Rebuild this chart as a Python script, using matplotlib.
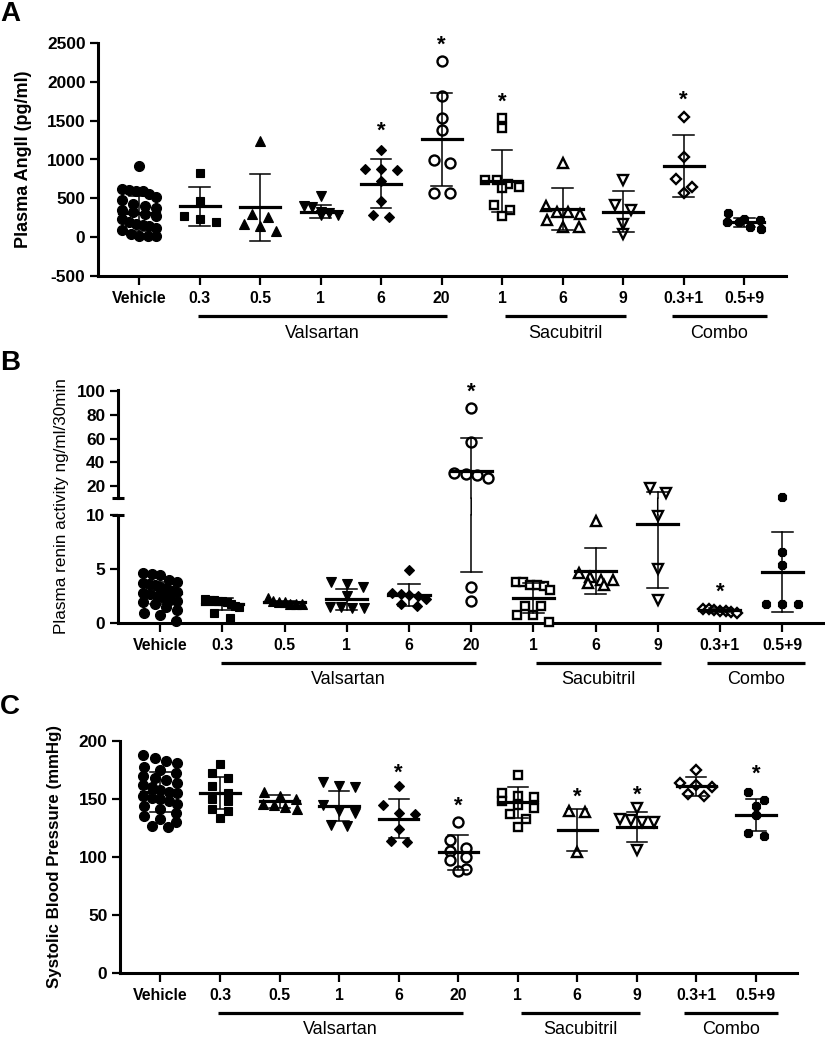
import numpy as np
import matplotlib
matplotlib.use("Agg")
import matplotlib.pyplot as plt
from matplotlib import transforms
from matplotlib.patches import ConnectionPatch

plt.rcParams['font.family'] = ['Liberation Sans', 'DejaVu Sans']

# ---------------- data ----------------
categories = ['Vehicle', '0.3', '0.5', '1', '6', '20', '1', '6', '9', '0.3+1', '0.5+9']
group_names = ['Valsartan', 'Sacubitril', 'Combo']
group_spans = [(0.97, 5.08), (6.05, 8.05), (8.8, 10.37)]

marker_shapes = ['o', 's', '^', 'v', 'D', 'o', 's', '^', 'v', 'D', '8']
marker_filled = [True, True, True, True, True, False, False, False, False, False, True]

# Panel A: plasma AngII (pg/ml)
angii_vals = [
    [910, 620, 610, 600, 590, 560, 520, 480, 430, 400, 380, 350, 320, 300, 270,
     230, 200, 170, 160, 150, 120, 90, 40, 20, 20, 10],
    [820, 460, 270, 230, 190],
    [1240, 300, 260, 170, 140, 85],
    [530, 400, 390, 330, 310, 290, 280],
    [1120, 880, 880, 870, 720, 470, 280, 260],
    [2270, 1820, 1540, 1380, 990, 960, 570, 570],
    [1540, 1410, 740, 730, 680, 640, 630, 420, 350, 270],
    [950, 400, 330, 320, 300, 220, 130, 130],
    [740, 420, 350, 170, 40],
    [1550, 1030, 750, 640, 570],
    [310, 240, 220, 200, 200, 130, 110],
]
angii_mean = [305, 395, 383, 330, 688, 1262, 720, 365, 330, 912, 190]
angii_sd = [225, 255, 435, 85, 315, 600, 400, 270, 260, 400, 60]
angii_star = [None, None, None, None, 1455, 2560, 1830, None, None, 1850, None]

# Panel B: plasma renin activity (ng/ml/30min)
renin_vals = [
    [4.6, 4.5, 4.4, 4.0, 3.8, 3.7, 3.6, 3.5, 3.3, 3.2, 3.0, 2.9, 2.8, 2.7, 2.5,
     2.3, 2.1, 2.0, 1.9, 1.8, 1.5, 1.2, 0.9, 0.7, 0.2],
    [2.2, 2.1, 2.1, 2.0, 2.0, 1.9, 1.8, 1.6, 1.5, 0.9, 0.5],
    [2.3, 2.0, 1.9, 1.9, 1.8, 1.8, 1.8],
    [3.8, 3.6, 3.3, 2.5, 1.5, 1.5, 1.4, 1.4],
    [4.9, 2.8, 2.7, 2.6, 2.5, 2.2, 1.8, 1.6],
    [86, 57, 31, 30, 29, 27, 3.3, 2.0],
    [3.8, 3.8, 3.5, 3.5, 3.4, 3.1, 1.6, 1.6, 0.7, 0.7, 0.1],
    [9.4, 4.6, 4.3, 4.0, 4.0, 3.7, 3.5],
    [18.3, 14.0, 9.9, 5.0, 2.1],
    [1.3, 1.3, 1.2, 1.1, 1.1, 1.0, 0.9],
    [11.0, 6.6, 5.4, 1.8, 1.8, 1.8],
]
renin_mean = [2.8, 1.8, 1.9, 2.2, 2.6, 32.5, 2.3, 4.8, 9.2, 1.2, 4.7]
renin_sd = [1.0, 0.55, 0.15, 0.95, 1.0, 27.8, 1.4, 2.1, 6.0, 0.15, 3.7]
renin_star = [None, None, None, None, None, 105, None, None, None, 3.5, None]
renin_break = 10

# Panel C: systolic blood pressure (mmHg)
sbp_vals = [
    [188, 185, 183, 181, 178, 175, 172, 170, 168, 166, 164, 162, 160, 158, 156,
     155, 153, 151, 150, 148, 146, 144, 141, 138, 135, 133, 130, 127, 126],
    [180, 172, 168, 161, 155, 150, 148, 141, 140, 134],
    [156, 153, 150, 146, 145, 143, 141],
    [165, 161, 160, 145, 140, 138, 128, 127],
    [161, 145, 138, 137, 124, 114, 113],
    [130, 115, 108, 105, 100, 97, 90, 88],
    [171, 155, 153, 152, 148, 145, 142, 137, 133, 126],
    [140, 139, 104],
    [142, 133, 132, 130, 130, 106],
    [175, 164, 162, 160, 154, 153],
    [156, 149, 144, 136, 121, 118],
]
sbp_mean = [156, 155, 148, 144, 133, 104, 147, 123, 126, 161, 136]
sbp_sd = [17, 14, 5.5, 13, 17, 15, 13, 18, 13, 8, 14]
sbp_star = [None, None, None, None, 178, 150, None, 158, 159, None, 177]

# ---------------- layout helpers ----------------
W, H = 825, 1038
fig = plt.figure(figsize=(W / 100, H / 100), dpi=100)


def px_rect(left, top, right, bottom):
    return [left / W, 1 - bottom / H, (right - left) / W, (bottom - top) / H]


SPINE_LW = 2.2
XLIM = (-0.68, 10.69)


def base_style(ax, show_bottom=True):
    ax.spines['top'].set_visible(False)
    ax.spines['right'].set_visible(False)
    ax.spines['left'].set_linewidth(SPINE_LW)
    ax.spines['bottom'].set_linewidth(SPINE_LW)
    ax.spines['bottom'].set_visible(show_bottom)
    ax.tick_params(axis='y', direction='out', length=6, width=1.6,
                   labelsize=12.4, pad=3)
    ax.tick_params(axis='x', direction='out', length=6.5, width=1.6,
                   labelsize=11.4, pad=4)
    ax.set_facecolor('none')


def set_xcats(ax):
    ax.set_xlim(*XLIM)
    ax.set_xticks(range(len(categories)))
    ax.set_xticklabels(categories, fontweight='bold')


def set_yticks(ax, ticks):
    ax.set_yticks(ticks)
    ax.set_yticklabels([str(t) for t in ticks], fontweight='bold')


def swarm_x(ax, x0, vals, diam_px, spacing_px, max_width_px):
    """Row-binned scatter layout: points closer than one marker height share a
    row and are spread sideways (like a column scatter plot)."""
    vals = np.asarray(vals, float)
    n = len(vals)
    if n == 0:
        return vals
    pts = ax.transData.transform(np.column_stack([np.full(n, x0), vals]))
    cx = pts[0, 0]
    ys = pts[:, 1]
    order = np.argsort(-ys)
    xs = np.zeros(n)
    j = 0
    while j < n:
        start = ys[order[j]]
        members = [order[j]]
        j += 1
        while j < n and start - ys[order[j]] < diam_px * 0.9:
            members.append(order[j])
            j += 1
        k = len(members)
        s = spacing_px if k == 1 else min(spacing_px, max_width_px / (k - 1))
        for mi, idx in enumerate(members):
            xs[idx] = (mi - (k - 1) / 2) * s
    disp = np.column_stack([cx + xs, ys])
    return ax.transData.inverted().transform(disp)[:, 0]


MS = {'o': 7.2, 's': 6.4, '^': 7.4, 'v': 7.4, 'D': 5.4, '8': 6.6}


def draw_points(ax, i, vals):
    mk = marker_shapes[i]
    fill = marker_filled[i]
    ms = MS[mk]
    diam = ms * 100 / 72 * (1.0 if mk != 'D' else 1.4)
    xs = swarm_x(ax, i, vals, diam, 16, 34)
    ax.plot(xs, vals, linestyle='none', marker=mk, ms=ms,
            mfc='black' if fill else 'white', mec='black',
            mew=0.8 if fill else 1.7, clip_on=False, zorder=3)


ERR_LW = 1.1
MEAN_LW = 2.3
CAP_HALF = 0.17
MEAN_HALF = 0.33


def draw_err(ax, i, m, sd):
    ax.plot([i, i], [m - sd, m + sd], color='black', lw=ERR_LW, zorder=4,
            clip_on=False, solid_capstyle='butt')
    for v in (m - sd, m + sd):
        ax.plot([i - CAP_HALF, i + CAP_HALF], [v, v], color='black', lw=ERR_LW,
                zorder=4, clip_on=False)
    ax.plot([i - MEAN_HALF, i + MEAN_HALF], [m, m], color='black', lw=MEAN_LW,
            zorder=4, clip_on=False)


def draw_star(ax, i, y):
    tr = transforms.offset_copy(ax.transData, fig=fig, y=-12.5, units='dots')
    ax.text(i, y, '*', transform=tr, ha='center', va='baseline', fontsize=16,
            fontweight='bold', clip_on=False)


def draw_groups(ax):
    base = transforms.blended_transform_factory(ax.transData, ax.transAxes)
    tl = transforms.offset_copy(base, fig=fig, y=-40, units='dots')
    tt = transforms.offset_copy(base, fig=fig, y=-57, units='dots')
    for name, (a, b) in zip(group_names, group_spans):
        ax.plot([a, b], [0, 0], transform=tl, color='black', lw=2.3,
                clip_on=False, solid_capstyle='butt')
        ax.text((a + b) / 2, 0, name, transform=tt, ha='center', va='center',
                fontsize=13)


def panel_letter(y_px, letter):
    fig.text(0.0, 1 - y_px / H, letter, fontsize=20, fontweight='bold',
             ha='left', va='top')


# ---------------- Panel A ----------------
axA = fig.add_axes(px_rect(98, 43, 786, 276))
base_style(axA)
axA.set_ylim(-500, 2500)
set_yticks(axA, [-500, 0, 500, 1000, 1500, 2000, 2500])
set_xcats(axA)
for i, vals in enumerate(angii_vals):
    draw_points(axA, i, vals)
    draw_err(axA, i, angii_mean[i], angii_sd[i])
    if angii_star[i] is not None:
        draw_star(axA, i, angii_star[i])
draw_groups(axA)
axA.set_ylabel('Plasma AngII (pg/ml)', fontsize=13, fontweight='bold')
axA.yaxis.set_label_coords((32 - 98) / 688, 0.5)
panel_letter(1, 'A')

# ---------------- Panel B (broken axis) ----------------
axBu = fig.add_axes(px_rect(118, 390, 825, 498))
axBl = fig.add_axes(px_rect(118, 515, 825, 623))
base_style(axBu, show_bottom=False)
base_style(axBl)
axBu.set_ylim(renin_break, 100.8)
axBl.set_ylim(0, renin_break)
set_yticks(axBu, [20, 40, 60, 80, 100])
set_yticks(axBl, [0, 5, 10])
axBu.set_xlim(*XLIM)
axBu.set_xticks([])
set_xcats(axBl)
for ax, yy in ((axBu, 0), (axBl, 1)):
    ax.plot([0], [yy], transform=ax.transAxes, marker='_', ms=8.5, mew=2.2,
            color='black', clip_on=False)

for i, vals in enumerate(renin_vals):
    vals = np.asarray(vals, float)
    hi_vals = vals[vals > renin_break]
    lo_vals = vals[vals <= renin_break]
    if len(hi_vals):
        draw_points(axBu, i, hi_vals)
    if len(lo_vals):
        draw_points(axBl, i, lo_vals)
    m, sd = renin_mean[i], renin_sd[i]
    lo, hi = m - sd, m + sd
    if hi <= renin_break:
        axBl.plot([i, i], [lo, hi], color='black', lw=ERR_LW, zorder=4, clip_on=False)
    elif lo > renin_break:
        axBu.plot([i, i], [lo, hi], color='black', lw=ERR_LW, zorder=4, clip_on=False)
    else:
        axBl.plot([i, i], [lo, renin_break], color='black', lw=ERR_LW, zorder=4, clip_on=False)
        axBu.plot([i, i], [renin_break, hi], color='black', lw=ERR_LW, zorder=4, clip_on=False)
        con = ConnectionPatch(xyA=(i, renin_break), coordsA=axBl.transData,
                              xyB=(i, renin_break), coordsB=axBu.transData,
                              color='black', lw=ERR_LW, zorder=4)
        fig.add_artist(con)
    for v in (lo, hi):
        ax = axBu if v > renin_break else axBl
        ax.plot([i - CAP_HALF, i + CAP_HALF], [v, v], color='black', lw=ERR_LW,
                zorder=4, clip_on=False)
    ax = axBu if m > renin_break else axBl
    ax.plot([i - MEAN_HALF, i + MEAN_HALF], [m, m], color='black', lw=MEAN_LW,
            zorder=4, clip_on=False)
    if renin_star[i] is not None:
        s = renin_star[i]
        draw_star(axBu if s > renin_break else axBl, i, s)
draw_groups(axBl)
fig.text(62 / W, 1 - 506 / H, 'Plasma renin activity ng/ml/30min', rotation=90,
         ha='center', va='center', fontsize=12.3)
panel_letter(350, 'B')

# ---------------- Panel C ----------------
axC = fig.add_axes(px_rect(120, 741, 797, 973))
base_style(axC)
axC.set_ylim(0, 200)
set_yticks(axC, [0, 50, 100, 150, 200])
set_xcats(axC)
for i, vals in enumerate(sbp_vals):
    draw_points(axC, i, vals)
    draw_err(axC, i, sbp_mean[i], sbp_sd[i])
    if sbp_star[i] is not None:
        draw_star(axC, i, sbp_star[i])
draw_groups(axC)
axC.set_ylabel('Systolic Blood Pressure (mmHg)', fontsize=12.2, fontweight='bold')
axC.yaxis.set_label_coords((62.5 - 120) / 677, 0.5)
panel_letter(694, 'C')

fig.savefig('out.png', dpi=100)
